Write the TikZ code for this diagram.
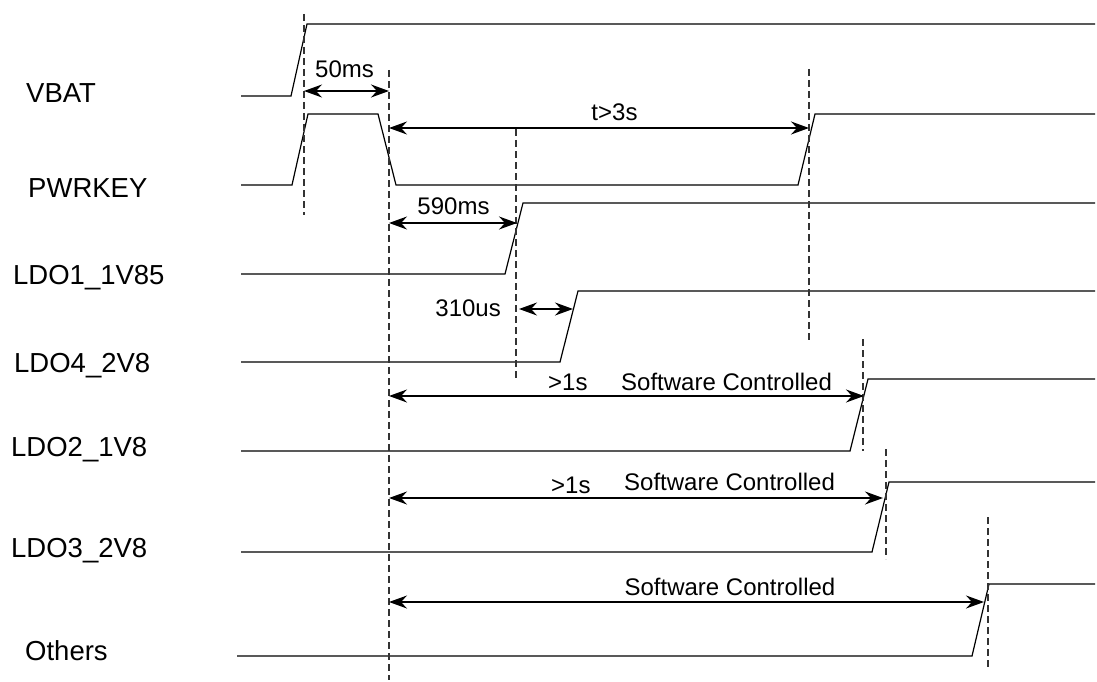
\documentclass[tikz,border=0pt]{standalone}
\usepackage{fontspec}
\setmainfont{Liberation Sans}
\usetikzlibrary{arrows.meta}

\begin{document}
\begin{tikzpicture}[x = 1pt, y = -1pt, wave/.style = {line width = 1.2pt}, guide/.style = {line width = 1.1pt, black!80, dash pattern = on 7pt off 4pt}, dimline/.style = {line width = 1.2pt, {Stealth[length = 18pt, width = 13pt, inset = 6pt]}-{Stealth[length = 18pt, width = 13pt, inset = 6pt]}}, signame/.style = {anchor = base west, inner sep = 0pt, font = \fontsize{27.5}{32}\selectfont}, timing/.style = {anchor = base, inner sep = 0pt, font = \fontsize{24}{28}\selectfont}]
\useasboundingbox (0,0) rectangle (1097,682);

\node[signame] (vbat) at (26,103) {VBAT};
\node[signame] (pwrkey) at (28,197) {PWRKEY};
\node[signame] (ldo1) at (13,284) {LDO1\_1V85};
\node[signame] (ldo4) at (14,372) {LDO4\_2V8};
\node[signame] (ldo2) at (11,456) {LDO2\_1V8};
\node[signame] (ldo3) at (11,557) {LDO3\_2V8};
\node[signame] (others) at (25,660) {Others};

\draw[wave] (241,96) -- (291,96) -- (307,24) -- (1095,24);
\draw[wave] (241,185) -- (292,185) -- (308,114) -- (378,114) -- (396,185) -- (798,185) -- (815,114) -- (1095,114);
\draw[wave] (241,274) -- (505,274) -- (523,203) -- (1095,203);
\draw[wave] (241,362) -- (560,362) -- (578,291) -- (1095,291);
\draw[wave] (241,451) -- (850,451) -- (868,379) -- (1095,379);
\draw[wave] (241,552) -- (872,552) -- (889,482) -- (1095,482);
\draw[wave] (237,656) -- (972,656) -- (989,584) -- (1095,584);

\coordinate (g0t) at (304,14);  \coordinate (g0b) at (304,215);
\coordinate (g1t) at (389,70);  \coordinate (g1b) at (389,680);
\coordinate (g2t) at (809,69);  \coordinate (g2b) at (809,343);
\coordinate (g3t) at (516,129); \coordinate (g3b) at (516,381);
\coordinate (g4t) at (863,339); \coordinate (g4b) at (863,451);
\coordinate (g5t) at (886,449); \coordinate (g5b) at (886,559);
\coordinate (g6t) at (988,517); \coordinate (g6b) at (988,668);

\draw[guide] (g0t) -- (g0b);
\draw[guide] (g1t) -- (g1b);
\draw[guide] (g2t) -- (g2b);
\draw[guide] (g3t) -- (g3b);
\draw[guide] (g4t) -- (g4b);
\draw[guide] (g5t) -- (g5b);
\draw[guide] (g6t) -- (g6b);

\coordinate (a50l) at (304,91);   \coordinate (a50r) at (389,91);
\coordinate (a3sl) at (389,128);  \coordinate (a3sr) at (809,128);
\coordinate (a590l) at (389,223); \coordinate (a590r) at (517,223);
\coordinate (a310l) at (519,309); \coordinate (a310r) at (573,309);
\coordinate (aldo2l) at (389,396); \coordinate (aldo2r) at (864,396);
\coordinate (aldo3l) at (389,498); \coordinate (aldo3r) at (883,498);
\coordinate (aothl) at (389,602);  \coordinate (aothr) at (984,602);

\draw[dimline] (a50l) -- (a50r);
\draw[dimline] (a3sl) -- (a3sr);
\draw[dimline] (a590l) -- (a590r);
\draw[dimline] (a310l) -- (a310r);
\draw[dimline] (aldo2l) -- (aldo2r);
\draw[dimline] (aldo3l) -- (aldo3r);
\draw[dimline] (aothl) -- (aothr);

\node[timing] (t50) at (344.5,78) {50ms};
\node[timing] (t3s) at (614.5,121) {t>3s};
\node[timing] (t590) at (453.5,214) {590ms};
\node[timing, anchor = base east] (t310) at (501,316) {310us};
\node[timing, anchor = base west] (t1s2) at (548,390) {>1s};
\node[timing, anchor = base west] (sw2) at (621,390) {Software Controlled};
\node[timing, anchor = base west] (t1s3) at (551,493) {>1s};
\node[timing, anchor = base west] (sw3) at (624,490) {Software Controlled};
\node[timing] (sw4) at (730,595) {Software Controlled};
\end{tikzpicture}
\end{document}
